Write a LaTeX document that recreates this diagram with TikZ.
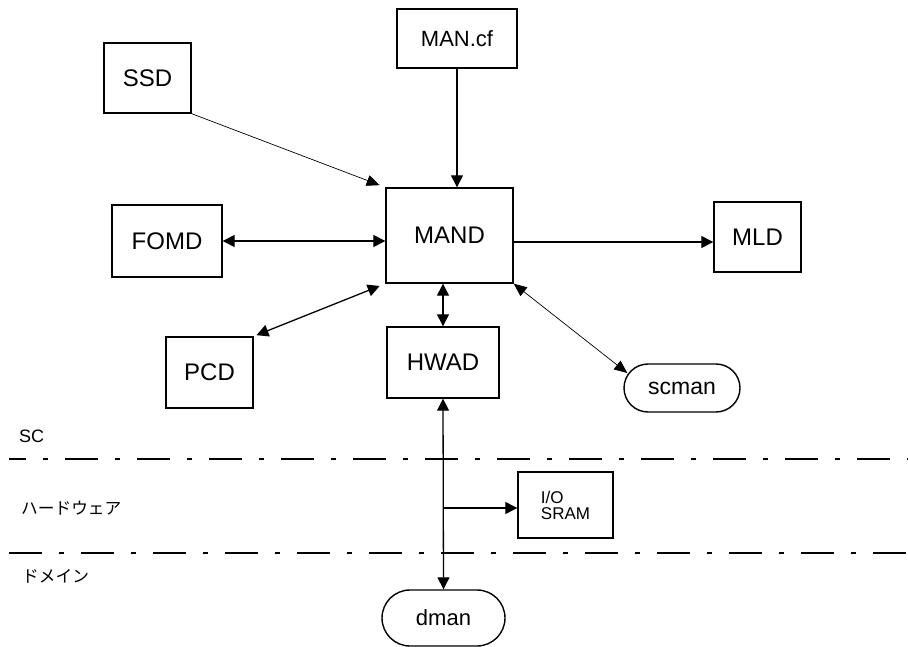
\documentclass[tikz,border=0pt]{standalone}
\usepackage{fontspec}
\setmainfont{Liberation Sans}
\newfontfamily\jpfont{Noto Sans CJK JP}
\usetikzlibrary{arrows.meta,calc}
\definecolor{LineClr}{rgb}{0,0,0}

\begin{document}
\begin{tikzpicture}[x=1pt,y=-1pt]
\tikzset{blk/.style={draw=LineClr,line width=1.4pt,inner sep=0pt,font=\fontsize{24}{28}\selectfont},
         term/.style={blk,rounded corners=24pt},
         arr/.style={line width=1.3pt,-{Triangle[length=12pt,width=12pt]}},
         darr/.style={line width=1.3pt,{Triangle[length=12pt,width=12pt]}-{Triangle[length=12pt,width=12pt]}},
         thinarr/.style={line width=0.7pt,-{Triangle[length=13pt,width=11pt]}},
         thindarr/.style={line width=0.7pt,{Triangle[length=13pt,width=11pt]}-{Triangle[length=13pt,width=11pt]}},
         sep/.style={line width=1.3pt,dash pattern=on 33pt off 17pt on 5pt off 17pt},
         zone/.style={anchor=west,inner sep=0pt}}
\useasboundingbox (0,0) rectangle (908,647);

\node[blk,minimum width=87,minimum height=70] (ssd) at (147.5,78) {SSD};
\node[blk,minimum width=120,minimum height=59,font=\fontsize{22}{26}\selectfont] (mancf) at (457,38.5) {MAN.cf};
\node[blk,minimum width=110,minimum height=72] (fomd) at (167,241) {FOMD};
\node[blk,minimum width=127,minimum height=95] (mand) at (449.5,235.5) {MAND};
\node[blk,minimum width=87,minimum height=70] (mld) at (757.5,237) {MLD};
\node[blk,minimum width=87,minimum height=71] (pcd) at (209.5,372.5) {PCD};
\node[blk,minimum width=112,minimum height=71] (hwad) at (443,362.5) {HWAD};
\node[term,minimum width=116,minimum height=48,font=\fontsize{23}{26}\selectfont] (scman) at (682,388) {scman};
\node[blk,minimum width=95,minimum height=66,align=left,font=\fontsize{17}{16}\selectfont] (iosram) at (565.5,505) {I/O\\SRAM};
\node[term,minimum width=123,minimum height=56,rounded corners=28pt,font=\fontsize{22}{26}\selectfont] (dman) at (443.5,618) {dman};

\node[zone,font=\fontsize{18}{20}\selectfont] (sc) at (19,436.5) {SC};
\node[zone,font=\fontsize{16.7}{20}\jpfont] (hw) at (21,508.5) {ハードウェア};
\node[zone,font=\fontsize{16.7}{20}\jpfont] (dom) at (22,576.5) {ドメイン};

\draw[sep,dash phase=16pt] (9,459) -- (908,459);
\draw[sep] (9,553) -- (908,553);

\draw[thinarr,shorten >=6pt] (ssd.south east) -- (mand.north west);
\draw[arr] (mancf.south) -- (mancf.south |- mand.north);
\draw[darr] (fomd.east) -- (fomd.east -| mand.west);
\draw[arr] ([yshift=-6.5pt]mand.east) -- ([yshift=-5pt]mld.west);
\draw[darr,shorten <=3pt,shorten >=6pt] (pcd.north east) -- (mand.south west);
\draw[darr] (hwad.north) -- (hwad.north |- mand.south);
\draw[thindarr] (mand.south east) -- ($(scman.west)+(4,-15)$);
\draw[darr] (hwad.south) -- (dman.north);

\coordinate (br) at (443,508);
\draw[arr] (br) -- (br -| iosram.west);

\end{tikzpicture}
\end{document}
